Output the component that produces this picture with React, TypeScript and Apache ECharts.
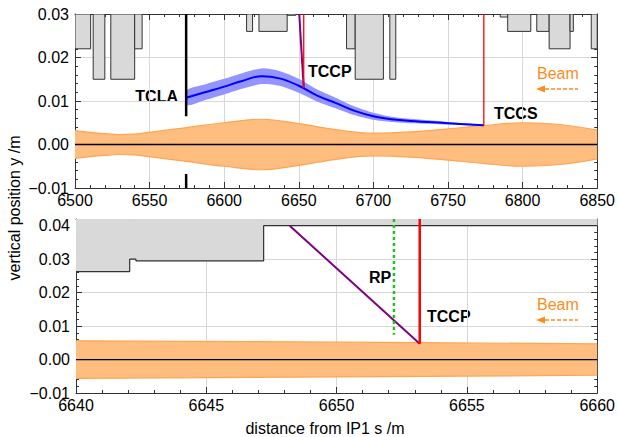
import React, { useEffect, useRef } from 'react';
import * as echarts from 'echarts';

// ---- Top panel data ----
const beamTopS = [6500, 6510, 6520, 6530, 6540, 6550, 6575, 6600, 6625, 6650, 6675, 6700, 6725, 6750, 6775, 6800, 6825, 6850];
const beamTopHalf = [0.0032, 0.0028, 0.0025, 0.0023, 0.0024, 0.0028, 0.0039, 0.005, 0.0058, 0.0048, 0.0034, 0.0026, 0.0029, 0.0036, 0.0044, 0.005, 0.0046, 0.0033];

const trajS = [6575, 6587, 6600, 6612, 6625, 6637, 6650, 6662, 6675, 6687, 6700, 6712, 6725, 6750, 6774];
const trajCentre = [0.0108, 0.012, 0.0133, 0.0146, 0.0157, 0.0152, 0.0135, 0.0113, 0.0095, 0.0078, 0.0065, 0.0058, 0.0054, 0.0049, 0.0044];
const trajHalf = [0.0017, 0.0018, 0.0018, 0.0018, 0.0018, 0.0017, 0.0016, 0.0014, 0.0012, 0.001, 0.0008, 0.0006, 0.0005, 0.0003, 0.0001];

// aperture blocks: [s start, s end, lower edge y]
const apertureTop = [
  [6500, 6510.5, 0.022],
  [6512.2, 6520, 0.015],
  [6524, 6540, 0.015],
  [6540, 6545, 0.022],
  [6615, 6619, 0.026],
  [6623.3, 6642.2, 0.026],
  [6642.2, 6648, 0.0297],
  [6682, 6687.8, 0.022],
  [6687.8, 6706.7, 0.015],
  [6711, 6715, 0.015],
  [6785, 6790, 0.0293],
  [6790, 6805.5, 0.026],
  [6809.5, 6817.8, 0.026],
  [6817.8, 6831.8, 0.022],
  [6831.8, 6834, 0.026],
  [6846, 6850, 0.022],
];

const tclaUpper = [[6574.5, 0.03], [6574.5, 0.0065]];
const tclaLower = [[6574.5, -0.0068], [6574.5, -0.01]];
const tccpTopPurple = [[6650.3, 0.03], [6653.3, 0.013]];
const tccpTopRed = [[6653.3, 0.03], [6653.3, 0.013]];
const tccsRed = [[6774, 0.03], [6774, 0.0044]];

// ---- Bottom panel data ----
const beamBotS = [6640, 6650, 6660];
const beamBotHalf = [0.0056, 0.0052, 0.0047];
const apertureBot = [
  [6640, 6642.06, 0.0263],
  [6642.06, 6642.3, 0.03],
  [6642.3, 6647.2, 0.0295],
  [6647.2, 6660, 0.04],
];
const tccpBotPurple = [[6648.2, 0.04], [6653.19, 0.0047]];
const tccpBotRed = [[6653.19, 0.042], [6653.19, 0.0047]];
const rpGreen = [[6652.2, 0.042], [6652.2, 0.0074]];

const topXTicks = { min: 6500, max: 6850, interval: 50 };
const botXTicks = { min: 6640, max: 6660, interval: 5 };
const topYTicks = { min: -0.01, max: 0.03, interval: 0.01 };
const botYTicks = { min: -0.01, max: 0.042, interval: 0.01 };

const FONT = '"Liberation Sans", Arial, sans-serif';
const ORANGE = '#ff8c1a';

function yFmt(v: number) {
  const r = Math.round(v * 100);
  if (Math.abs(v * 100 - r) > 1e-6) return '';
  return (r < 0 ? '\u2212' : '') + (Math.abs(r) / 100).toFixed(2);
}

function axis(kind: 'x' | 'y', gridIndex: number, t: any, position: string, labels: boolean) {
  return {
    type: 'value',
    gridIndex,
    min: t.min,
    max: t.max,
    interval: t.interval,
    position,
    axisLine: { show: true, onZero: false, lineStyle: { color: '#333', width: 1 } },
    axisTick: { show: true, inside: true, length: 6, lineStyle: { color: '#333' } },
    minorTick: { show: true, splitNumber: 5, length: 3, lineStyle: { color: '#333' } },
    axisLabel: {
      show: labels,
      margin: kind === 'x' ? 4 : 6,
      color: '#000',
      fontSize: 16,
      fontFamily: FONT,
      formatter: kind === 'x' ? (v: number) => String(v) : yFmt,
    },
    splitLine: { show: labels, lineStyle: { color: '#d8d8d8', width: 1 } },
  };
}

function makeRectItem(stroke: boolean) {
  return (params: any, api: any) => {
    const x0 = api.value(0);
    const x1 = api.value(1);
    const yb = api.value(2);
    const p0 = api.coord([x0, yb]);
    const p1 = api.coord([x1, yb]);
    const top = params.coordSys.y;
    return {
      type: 'rect',
      shape: { x: p0[0], y: top, width: p1[0] - p0[0], height: p0[1] - top },
      style: stroke ? { fill: '#d9d9d9', stroke: '#333', lineWidth: 1 } : { fill: '#d9d9d9', stroke: '#d9d9d9', lineWidth: 0.5 },
    };
  };
}

// trajectory uncertainty band: one polygon from all points, through the axis scales
function trajBandItem(params: any, api: any) {
  if (params.dataIndex !== 0) return null;
  const upper = trajS.map((s, i) => api.coord([s, trajCentre[i] + trajHalf[i]]));
  const lower = trajS.map((s, i) => api.coord([s, trajCentre[i] - trajHalf[i]])).reverse();
  return {
    type: 'polygon',
    shape: { points: upper.concat(lower), smooth: 0.25 },
    style: { fill: '#9494ff', stroke: 'none' },
  };
}

function lineS(xi: number, yi: number, data: any, color: string, width: number, extra: any = {}) {
  return {
    type: 'line',
    xAxisIndex: xi,
    yAxisIndex: yi,
    data,
    symbol: 'none',
    lineStyle: { color, width, ...(extra.lineStyle || {}) },
    z: extra.z ?? 5,
    silent: true,
  };
}

function bandSeries(xi: number, yi: number, s: number[], h: number[], sign: number) {
  return {
    type: 'line',
    xAxisIndex: xi,
    yAxisIndex: yi,
    data: s.map((v, i) => [v, sign * h[i]]),
    smooth: 0.4,
    symbol: 'none',
    lineStyle: { color: '#ffa552', width: 1.2 },
    areaStyle: { color: '#ffbd80', opacity: 1 },
    z: 1,
  };
}

function arrow(y: number) {
  return [
    { type: 'line', shape: { x1: 545, y1: y, x2: 578, y2: y }, style: { stroke: ORANGE, lineWidth: 1.5, lineDash: [4, 2] } },
    { type: 'polygon', shape: { points: [[536, y], [545, y - 3.5], [545, y + 3.5]] }, style: { fill: ORANGE } },
  ];
}

function txt(x: number, y: number, text: string, opts: any = {}) {
  return {
    type: 'text',
    x,
    y,
    rotation: opts.rotation || 0,
    style: {
      text,
      fill: opts.fill || '#000',
      font: opts.font || `bold 16px ${FONT}`,
      align: opts.align || 'left',
      textAlign: opts.align || 'left',
      verticalAlign: 'middle',
      textVerticalAlign: 'middle',
    },
  };
}

export default function App() {
  const ref = useRef<HTMLDivElement>(null);
  useEffect(() => {
    if (!ref.current) return;
    const chart = echarts.init(ref.current, null, { renderer: 'svg' });
    const botOutline: number[][] = [];
    apertureBot.forEach((b) => {
      botOutline.push([b[0], b[2]]);
      botOutline.push([b[1], b[2]]);
    });
    const option: any = {
      animation: false,
      backgroundColor: '#fff',
      grid: [
        { left: 75, top: 14, width: 525, height: 174 },
        { left: 76, top: 219, width: 524, height: 174 },
      ],
      xAxis: [
        axis('x', 0, topXTicks, 'bottom', true),
        axis('x', 0, topXTicks, 'top', false),
        axis('x', 1, botXTicks, 'bottom', true),
        axis('x', 1, botXTicks, 'top', false),
      ],
      yAxis: [
        axis('y', 0, topYTicks, 'left', true),
        axis('y', 0, topYTicks, 'right', false),
        axis('y', 1, botYTicks, 'left', true),
        axis('y', 1, botYTicks, 'right', false),
      ],
      series: [
        // top panel
        bandSeries(0, 0, beamTopS, beamTopHalf, 1),
        bandSeries(0, 0, beamTopS, beamTopHalf, -1),
        lineS(0, 0, [[6500, 0], [6850, 0]], '#000', 1.3, { z: 3 }),
        {
          type: 'custom', xAxisIndex: 0, yAxisIndex: 0, renderItem: trajBandItem,
          data: trajS.map((s, i) => [s, trajCentre[i]]), encode: { x: 0, y: 1 }, clip: true, z: 3,
        },
        {
          type: 'line', xAxisIndex: 0, yAxisIndex: 0, smooth: 0.4, symbol: 'none',
          data: trajS.map((s, i) => [s, trajCentre[i]]),
          lineStyle: { color: '#0000ff', width: 2 }, z: 4,
        },
        {
          type: 'custom', xAxisIndex: 0, yAxisIndex: 0, renderItem: makeRectItem(true), data: apertureTop,
          encode: { x: [0, 1], y: 2 }, clip: true, z: 2,
        },
        lineS(0, 0, tclaUpper, '#000', 2.5),
        lineS(0, 0, tclaLower, '#000', 2.5),
        lineS(0, 0, tccpTopPurple, '#800080', 2),
        lineS(0, 0, tccpTopRed, '#ff0000', 1.3),
        lineS(0, 0, tccsRed, '#ff0000', 1.3),
        // bottom panel
        bandSeries(2, 2, beamBotS, beamBotHalf, 1),
        bandSeries(2, 2, beamBotS, beamBotHalf, -1),
        lineS(2, 2, [[6640, 0], [6660, 0]], '#000', 1.3, { z: 3 }),
        {
          type: 'custom', xAxisIndex: 2, yAxisIndex: 2, renderItem: makeRectItem(false), data: apertureBot,
          encode: { x: [0, 1], y: 2 }, clip: true, z: 2,
        },
        lineS(2, 2, botOutline, '#333', 1.2, { z: 3 }),
        lineS(2, 2, tccpBotPurple, '#800080', 2),
        lineS(2, 2, rpGreen, '#1ec31e', 2.5, { lineStyle: { type: [3, 3] } }),
        lineS(2, 2, tccpBotRed, '#ff0000', 2.5),
      ],
      graphic: [
        txt(178, 96, 'TCLA', { align: 'right' }),
        txt(308, 71, 'TCCP'),
        txt(494, 113, 'TCCS'),
        txt(537, 73, 'Beam', { fill: ORANGE, font: `16px ${FONT}` }),
        ...arrow(89),
        txt(369, 277.5, 'RP'),
        txt(427, 316, 'TCCP'),
        txt(537, 304, 'Beam', { fill: ORANGE, font: `16px ${FONT}` }),
        ...arrow(320),
        txt(14, 208, 'vertical position y /m', { font: `16px ${FONT}`, align: 'center', rotation: Math.PI / 2 }),
        txt(325, 428, 'distance from IP1 s /m', { font: `16px ${FONT}`, align: 'center' }),
      ],
    };
    chart.setOption(option);
    return () => chart.dispose();
  }, []);
  return <div ref={ref} style={{ position: 'fixed', left: 0, top: 0, width: 618, height: 437 }} />;
}
